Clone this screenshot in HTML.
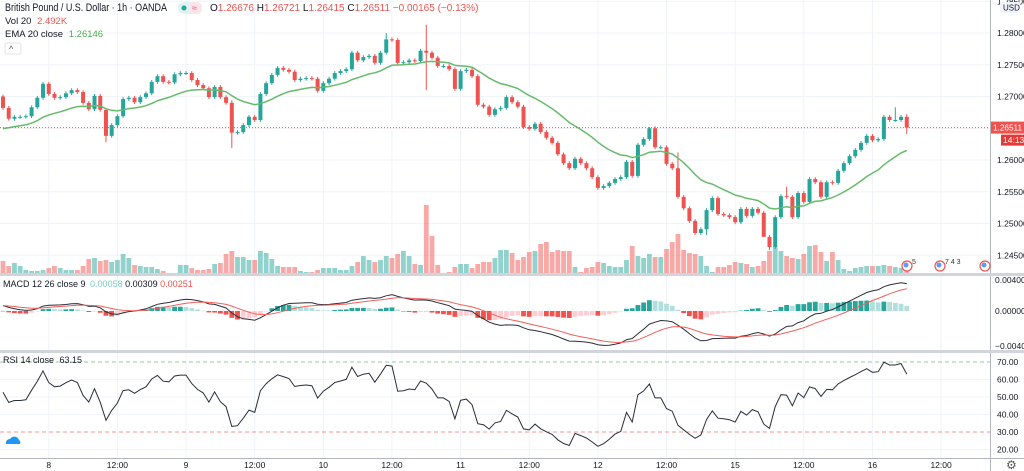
<!DOCTYPE html>
<html><head><meta charset="utf-8"><style>
html,body{margin:0;padding:0;background:#fff;}
svg{display:block;font-family:"Liberation Sans",sans-serif;}
</style></head><body>
<svg id="chart" width="1024" height="471" viewBox="0 0 1024 471" xmlns="http://www.w3.org/2000/svg">
<g id="grid"></g>
<g id="vol"></g>
<g id="candles"></g>
<g id="ind"></g>
<g id="axes"></g>
<g font-size="11">
 <text x="5" y="11" fill="#131722" textLength="162" lengthAdjust="spacingAndGlyphs">British Pound / U.S. Dollar · 1h · OANDA</text>
 <rect x="178" y="2" width="24" height="12" rx="6" fill="#e0f2f1"/>
 <circle cx="184" cy="8" r="2.5" fill="#26a69a"/>
 <rect x="189" y="2" width="13" height="12" rx="5" fill="#fce4ec"/>
 <text x="192" y="11" font-size="9" fill="#ef5350">≈</text>
 <text x="210" y="11" font-size="10"><tspan fill="#131722">O</tspan><tspan fill="#ef5350">1.26676 </tspan><tspan fill="#131722">H</tspan><tspan fill="#ef5350">1.26721 </tspan><tspan fill="#131722">L</tspan><tspan fill="#ef5350">1.26415 </tspan><tspan fill="#131722">C</tspan><tspan fill="#ef5350">1.26511 −0.00165 (−0.13%)</tspan></text>
 <text x="5" y="24" font-size="9.5" fill="#131722">Vol 20 <tspan fill="#ef5350" dx="3">2.492K</tspan></text>
 <text x="5" y="37" font-size="9.5" fill="#131722">EMA 20 close <tspan fill="#4caf50" dx="3">1.26146</tspan></text>
 <rect x="5" y="43" width="16" height="11" rx="2" fill="#fff" stroke="#e0e3eb"/>
 <text x="9" y="52" font-size="9" fill="#555">^</text>
 <text x="3" y="287" font-size="9" fill="#131722">MACD 12 26 close 9 <tspan fill="#80cbc4" dx="2">0.00058</tspan> <tspan fill="#131722">0.00309</tspan> <tspan fill="#ef5350">0.00251</tspan></text>
 <text x="3" y="363" font-size="9" fill="#131722">RSI 14 close <tspan fill="#131722" dx="3">63.15</tspan></text>
</g>
</svg>
<script>
const closes=[1.2682,1.2665,1.2668,1.2668,1.2669,1.2683,1.2698,1.2720,1.2704,1.2698,1.2699,1.2705,1.2710,1.2707,1.2690,1.2680,1.2701,1.2679,1.2638,1.2655,1.2669,1.2696,1.2698,1.2691,1.2699,1.2705,1.2723,1.2732,1.2723,1.2722,1.2735,1.2737,1.2737,1.2726,1.2718,1.2713,1.2699,1.2715,1.2699,1.2690,1.2643,1.2644,1.2655,
1.2668,1.2663,1.2704,1.2721,1.2734,1.2745,1.2742,1.2739,1.2726,1.2728,1.2729,1.2728,1.2709,1.2721,1.2728,1.2737,1.2740,1.2743,1.2769,1.2757,1.2762,1.2764,1.2753,1.2769,1.2790,1.2789,1.2753,1.2754,1.2757,1.2756,1.2772,1.2769,1.2761,1.2748,1.2748,1.2743,1.2712,1.2740,1.2742,1.2732,1.2687,1.2684,1.2671,
1.2680,1.2682,1.2699,1.2691,1.2684,1.2652,1.2649,1.2657,1.2644,1.2635,1.2627,1.2609,1.2595,1.2587,1.2602,1.2595,1.2587,1.2573,1.2556,1.2559,1.2564,1.2570,1.2573,1.2597,1.2575,1.2624,1.2633,1.2650,1.2620,1.2620,1.2594,1.2587,1.2542,1.2524,1.2504,1.2485,1.2491,1.2521,1.2540,1.2515,1.2513,1.2510,
1.2502,1.2523,1.2512,1.2523,1.2517,1.2479,1.2463,1.2510,1.2543,1.2542,1.2510,1.2548,1.2534,1.2570,1.2565,1.2542,1.2565,1.2564,1.2583,1.2595,1.2606,1.2616,1.2627,1.2638,1.2631,1.2633,1.2668,1.2663,1.2663,1.2668,1.2651];
const firstOpen=1.2700;
const volumes=[13,8,11,8,4,3,3,4,6,8,6,4,4,4,8,15,16,13,14,12,14,20,16,9,8,7,7,5,3,1,1,9,9,6,4,4,5,10,11,20,23,17,17,
14,14,23,21,15,8,7,7,7,3,2,2,4,6,6,6,4,4,8,12,18,14,12,14,18,16,20,23,18,10,9,69,38,9,1,2,7,10,10,6,10,12,12,
16,24,24,21,14,17,22,23,30,32,22,24,23,23,7,2,6,7,12,11,8,7,7,14,28,18,16,20,17,17,25,32,40,24,21,20,18,8,2,7,7,9,
12,11,10,7,8,13,23,27,23,18,16,15,20,28,29,22,13,22,14,5,3,6,7,8,8,8,9,8,7,6,4];
const highOverrides={18:1.2668,40:1.2694,67:1.2800,74:1.2813,113:1.2652,118:1.2612,158:1.2672,156:1.2683,137:1.2558};
const lowOverrides={18:1.2628,40:1.2619,74:1.2710,113:1.2630,134:1.2458,123:1.2482,133:1.2482,158:1.2641};
const priceTicks=[1.245,1.25,1.255,1.26,1.265,1.27,1.275,1.28,1.285];
const macdTicks=[0.004,0,-0.004];
const rsiTicks=[70,60,50,40,30,20];
const timeLabels=["8","12:00","9","12:00","10","12:00","11","12:00","12","12:00","15","12:00","16","12:00"];
const timeIdx=[8,20,32,44,56,68,80,92,104,116,128,140,152,164];

const NS="http://www.w3.org/2000/svg";
function el(parent,tag,attrs){const e=document.createElementNS(NS,tag);for(const k in attrs)e.setAttribute(k,attrs[k]);document.getElementById(parent).appendChild(e);return e;}
const X=i=>3+i*5.72;
const PY=p=>33+(1.28-p)*6350;
const VY=v=>274-v*1.0;
const MY=m=>311-m*8875;
const RY=r=>397-(r-50)*1.75;
const UP="#26a69a",DN="#ef5350";

timeIdx.forEach((ti,k)=>{const x=X(ti);
 const g=el("grid","line",{x1:x,x2:x,y1:0,y2:458,stroke:"#f0f3fa"});
 
 });
priceTicks.forEach(p=>{const g=el("grid","line",{x1:0,x2:990,y1:PY(p),y2:PY(p),stroke:"#f0f3fa"});
 
 });
rsiTicks.forEach(r=>{if(r==70||r==30)return;const g=el("grid","line",{x1:0,x2:990,y1:RY(r),y2:RY(r),stroke:"#f0f3fa"});
 
 });

let prev=firstOpen;
closes.forEach((c,i)=>{
 const o=prev; prev=c; const up=c>=o; const col=up?UP:DN;
 const hi=highOverrides[i]!==undefined?highOverrides[i]:Math.max(o,c)+0.0003;
 const lo=lowOverrides[i]!==undefined?lowOverrides[i]:Math.min(o,c)-0.0003;
 const x=X(i);
 const v=el("vol","rect",{x:x-2.4,y:VY(volumes[i]),width:4.8,height:274-VY(volumes[i]),fill:col,opacity:0.5});
 
 
 const w=el("candles","line",{x1:x,x2:x,y1:PY(hi),y2:PY(lo),stroke:col,"stroke-width":1});
 
 
 const top=PY(Math.max(o,c)),bot=PY(Math.min(o,c));
 const b=el("candles","rect",{x:x-2,y:top,width:4,height:Math.max(1,bot-top),fill:col});
 
 
});

let ema=1.2646,pts=[];
closes.forEach((c,i)=>{ema=ema+(c-ema)*2/21;pts.push(X(i).toFixed(1)+","+PY(ema).toFixed(1));});
const emaL=el("ind","polyline",{points:pts.join(" "),fill:"none",stroke:"#66bb6a","stroke-width":1.5});



let e12=closes[0]+0.0004,e26=closes[0]-0.0003,sig=0.0006,prevH=0;const mp=[],sp=[];
closes.forEach((c,i)=>{e12+=(c-e12)*2/13;e26+=(c-e26)*2/27;const m=e12-e26;sig+=(m-sig)*2/10;const h=m-sig;
 const col=h>=0?(h>=prevH?"#26a69a":"#b2dfdb"):(h<prevH?"#ef5350":"#ffcdd2");prevH=h;
 const y0=MY(0),y1=MY(h);
 const r=el("ind","rect",{x:X(i)-2.4,y:Math.min(y0,y1),width:4.8,height:Math.max(0.5,Math.abs(y1-y0)),fill:col});
 
 
 mp.push(X(i).toFixed(1)+","+MY(m).toFixed(1));sp.push(X(i).toFixed(1)+","+MY(sig).toFixed(1));});
const ml=el("ind","polyline",{points:mp.join(" "),fill:"none",stroke:"#2a2e39","stroke-width":1});


const sl=el("ind","polyline",{points:sp.join(" "),fill:"none",stroke:"#f0605a","stroke-width":1});



[70,30].forEach(r=>{const l=el("ind","line",{x1:0,x2:990,y1:RY(r),y2:RY(r),stroke:r==70?"#4caf50":"#ef5350","stroke-dasharray":"4,3","stroke-width":0.8,opacity:0.8});
 
 });
let ag=0.0006,al=0.0004,pc=firstOpen;const rp=[];
closes.forEach((c,i)=>{const d=c-pc;pc=c;ag=(ag*13+Math.max(d,0))/14;al=(al*13+Math.max(-d,0))/14;
 const r=100-100/(1+ag/Math.max(al,1e-9));rp.push(X(i).toFixed(1)+","+RY(r).toFixed(1));});
const rl=el("ind","polyline",{points:rp.join(" "),fill:"none",stroke:"#2a2e39","stroke-width":1});



const lp=closes[closes.length-1];
const lpl=el("ind","line",{x1:0,x2:990,y1:PY(lp),y2:PY(lp),stroke:"#ef5350","stroke-dasharray":"1,2","stroke-width":1});



function ax(tag,a,name,inter){const e=el("axes",tag,a);
 
 
 return e;}
ax("rect",{x:990,y:0,width:34,height:471,fill:"#fff"},"price-axis-bg","true");
ax("rect",{x:0,y:458,width:1024,height:13,fill:"#fff"},"time-axis-bg","true");
ax("line",{x1:990.5,x2:990.5,y1:0,y2:471,stroke:"#b2b5be"},"price-axis-border","false");
ax("line",{x1:0,x2:1024,y1:458.5,y2:458.5,stroke:"#b2b5be"},"time-axis-border","false");
ax("rect",{x:0,y:273,width:1024,height:3,fill:"#d1d4dc"},"pane-separator-macd","true");
ax("rect",{x:0,y:350,width:1024,height:3,fill:"#d1d4dc"},"pane-separator-rsi","true");
priceTicks.forEach(p=>{const t=ax("text",{x:997,y:PY(p)+3,"font-size":8.5,fill:"#131722"},"price-tick-label","false");t.textContent=p.toFixed(5);});
macdTicks.forEach(m=>{const t=ax("text",{x:995,y:Math.min(Math.max(MY(m)+3,283),349),"font-size":8.5,fill:"#131722"},"macd-tick-label","false");t.textContent=(m<0?"−":"")+Math.abs(m).toFixed(5);});
rsiTicks.forEach(r=>{const t=ax("text",{x:997,y:RY(r)+3,"font-size":8.5,fill:"#131722"},"rsi-tick-label","false");t.textContent=r.toFixed(2);});
timeLabels.forEach((s,k)=>{const x=X(timeIdx[k]);if(x>985)return;const t=ax("text",{x:x,y:468,"font-size":8.5,fill:"#131722","text-anchor":"middle"},"time-tick-label","false");t.textContent=s;});
ax("rect",{x:1000,y:2,width:20,height:11,rx:2,fill:"#f0f3fa"},"currency-badge","true");
const cu=ax("text",{x:1003,y:10.5,"font-size":8,fill:"#131722"},"currency-label","false");cu.textContent="USD";
ax("rect",{x:991,y:PY(lp)-6,width:33,height:12,fill:"#ef5350"},"last-price-badge","false");
const lt=ax("text",{x:993,y:PY(lp)+3,"font-size":8,fill:"#fff",textLength:29,lengthAdjust:"spacingAndGlyphs"},"last-price-label","false");lt.textContent="1.26511";
ax("rect",{x:1001,y:PY(lp)+7,width:23,height:11,fill:"#e53935"},"countdown-badge","false");
const cd=ax("text",{x:1003,y:PY(lp)+15.5,"font-size":8.5,fill:"#fff"},"countdown-label","false");cd.textContent="14:13";
const gear=ax("text",{x:1006,y:469,"font-size":12,fill:"#555"},"settings-gear","true");gear.textContent="⚙";
[[907,"5"],[940,"7 4 3"],[985,""]].forEach(e=>{ax("circle",{cx:e[0],cy:266,r:5,fill:"#fff",stroke:"#ef5350","stroke-width":1.2},"event-marker","true");
 ax("circle",{cx:e[0]-1,cy:265,r:2.5,fill:"#5b9cf6"},"event-flag","false");
 if(e[1]){const t=ax("text",{x:e[0]+5,y:264,"font-size":7,fill:"#333"},"event-count","false");t.textContent=e[1];}});
ax("path",{d:"M6 444 a4 4 0 0 1 4-5 a5 5 0 0 1 9 1 a3 3 0 0 1 1 4 z",fill:"#2196f3"},"cloud-icon","true");
</script>
</body></html>
